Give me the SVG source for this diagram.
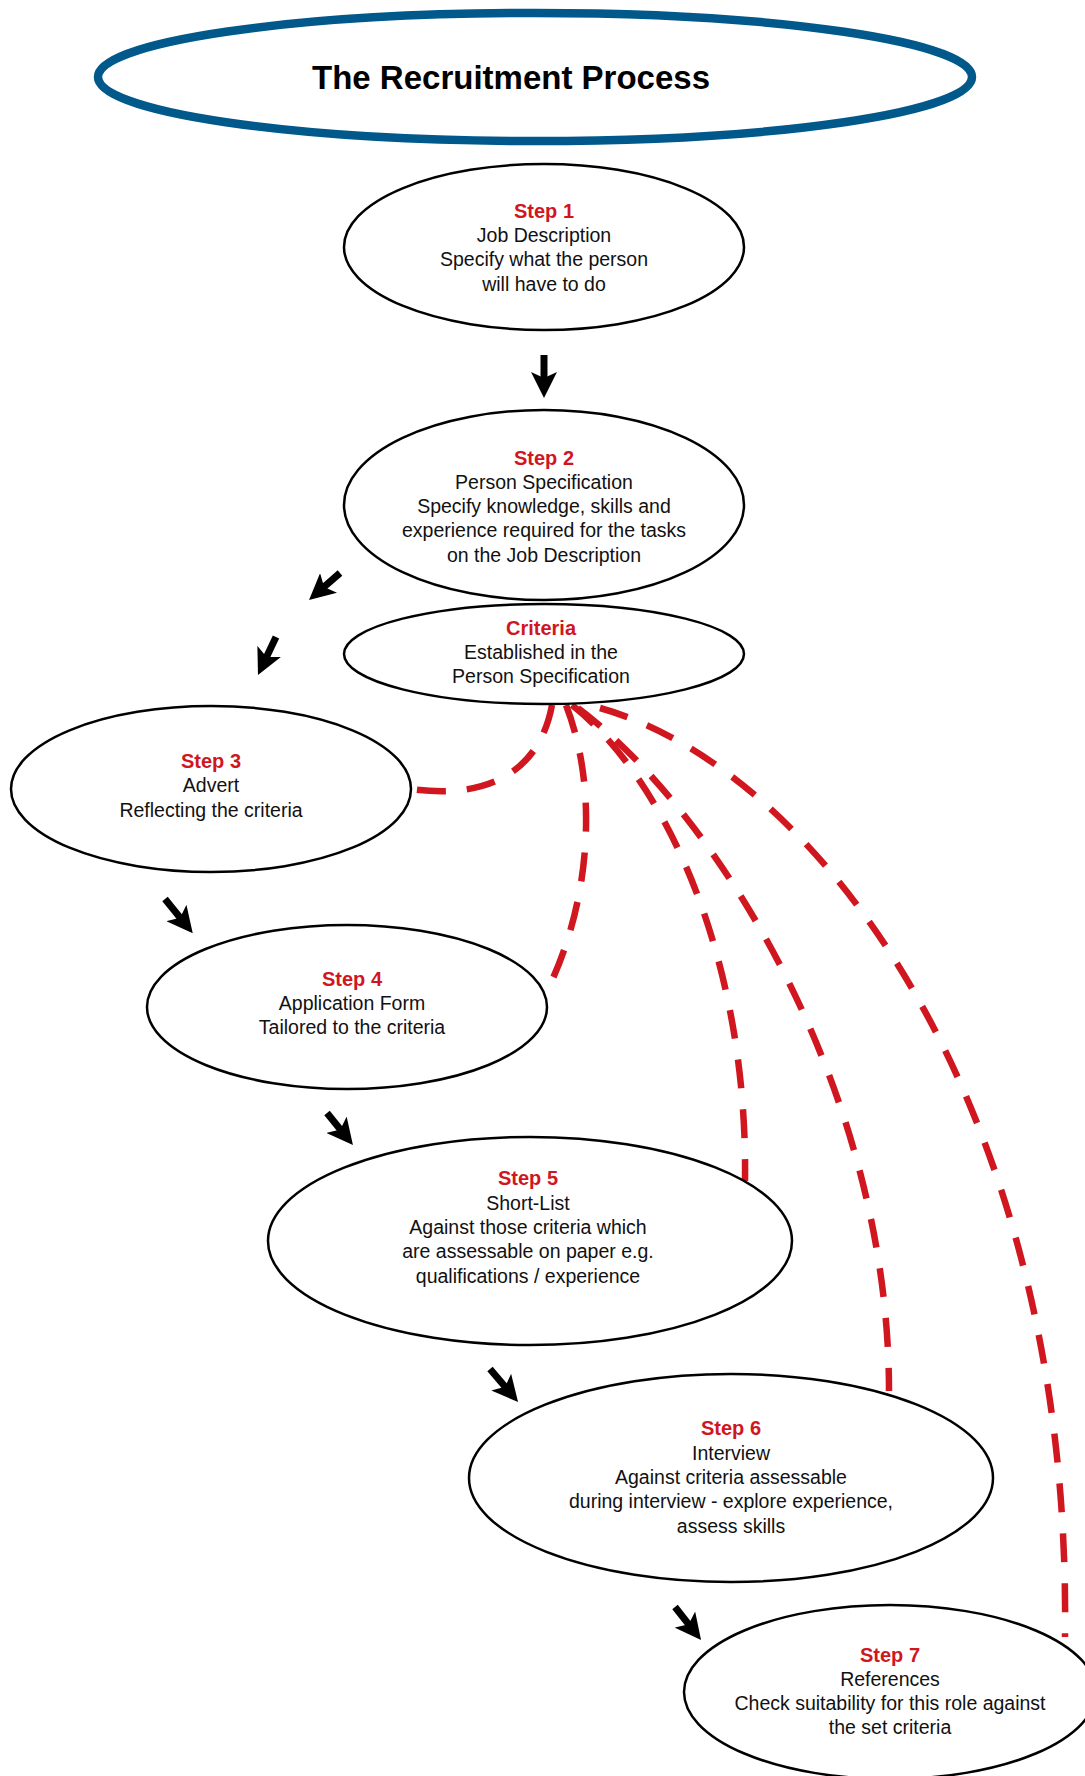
<svg xmlns="http://www.w3.org/2000/svg" width="1085" height="1776" viewBox="0 0 1085 1776">
<defs>
<style>
.node{fill:#fff;stroke:#000;stroke-width:2.5}
.title{fill:#fff;stroke:#00598a;stroke-width:8.5}
.tt{font-family:"Liberation Sans",Arial,sans-serif;font-weight:bold;font-size:33px;fill:#000;text-anchor:middle}
.st{font-family:"Liberation Sans",Arial,sans-serif;font-weight:bold;font-size:20px;fill:#d0161e;text-anchor:middle}
.bt{font-family:"Liberation Sans",Arial,sans-serif;font-size:19.5px;fill:#111;text-anchor:middle}
.dash{fill:none;stroke:#d0161e;stroke-width:6.5;stroke-dasharray:29 21}
.arr{stroke:#000;stroke-width:7;fill:none;marker-end:url(#ah)}
</style>
<marker id="ah" viewBox="0 0 26 26" refX="8" refY="13" markerWidth="26" markerHeight="26" markerUnits="userSpaceOnUse" orient="auto">
<path d="M0,0 L26,13 L0,26 L6,13 z" fill="#000"/>
</marker>
</defs>
<rect width="1085" height="1776" fill="#fff"/>

<g id="title">
<ellipse class="title" cx="535" cy="77" rx="437" ry="64"/>
<text class="tt" x="511" y="89">The Recruitment Process</text>
</g>

<g id="connectors">
<path class="dash" d="M552,705 C540,770 490,800 411,789"/>
<path class="dash" d="M566,705 C600,793 589,906 547,991"/>
<path class="dash" d="M572,705 C668,782 748,963 745,1181"/>
<path class="dash" d="M578,708 C714,810 889,1087 889,1391"/>
<path class="dash" d="M600,708 C820,770 1072,1110 1065,1637"/>
<line class="arr" x1="544" y1="355" x2="544" y2="380"/>
<line class="arr" x1="340" y1="573" x2="322.6" y2="588.2"/>
<line class="arr" x1="276" y1="637" x2="265.7" y2="658.7"/>
<line class="arr" x1="165" y1="899" x2="181.4" y2="919.2"/>
<line class="arr" x1="327" y1="1113" x2="341.6" y2="1131"/>
<line class="arr" x1="490" y1="1369" x2="506.4" y2="1388.3"/>
<line class="arr" x1="675" y1="1607" x2="689.9" y2="1625.9"/>
</g>

<g id="step1">
<ellipse class="node" cx="544" cy="247" rx="200" ry="83"/>
<text class="st" x="544" y="218">Step 1</text>
<text class="bt" x="544" y="242">Job Description</text>
<text class="bt" x="544" y="266">Specify what the person</text>
<text class="bt" x="544" y="291">will have to do</text>
</g>

<g id="step2">
<ellipse class="node" cx="544" cy="505" rx="200" ry="95"/>
<text class="st" x="544" y="465">Step 2</text>
<text class="bt" x="544" y="489">Person Specification</text>
<text class="bt" x="544" y="513">Specify knowledge, skills and</text>
<text class="bt" x="544" y="537">experience required for the tasks</text>
<text class="bt" x="544" y="562">on the Job Description</text>
</g>

<g id="criteria">
<ellipse class="node" cx="544" cy="654" rx="200" ry="50"/>
<text class="st" x="541" y="635">Criteria</text>
<text class="bt" x="541" y="659">Established in the</text>
<text class="bt" x="541" y="683">Person Specification</text>
</g>

<g id="step3">
<ellipse class="node" cx="211" cy="789" rx="200" ry="83"/>
<text class="st" x="211" y="768">Step 3</text>
<text class="bt" x="211" y="792">Advert</text>
<text class="bt" x="211" y="817">Reflecting the criteria</text>
</g>

<g id="step4">
<ellipse class="node" cx="347" cy="1007" rx="200" ry="82"/>
<text class="st" x="352" y="986">Step 4</text>
<text class="bt" x="352" y="1010">Application Form</text>
<text class="bt" x="352" y="1034">Tailored to the criteria</text>
</g>

<g id="step5">
<ellipse class="node" cx="530" cy="1241" rx="262" ry="104"/>
<text class="st" x="528" y="1185">Step 5</text>
<text class="bt" x="528" y="1210">Short-List</text>
<text class="bt" x="528" y="1234">Against those criteria which</text>
<text class="bt" x="528" y="1258">are assessable on paper e.g.</text>
<text class="bt" x="528" y="1283">qualifications / experience</text>
</g>

<g id="step6">
<ellipse class="node" cx="731" cy="1478" rx="262" ry="104"/>
<text class="st" x="731" y="1435">Step 6</text>
<text class="bt" x="731" y="1460">Interview</text>
<text class="bt" x="731" y="1484">Against criteria assessable</text>
<text class="bt" x="731" y="1508">during interview - explore experience,</text>
<text class="bt" x="731" y="1533">assess skills</text>
</g>

<g id="step7">
<ellipse class="node" cx="890" cy="1692" rx="206" ry="87"/>
<text class="st" x="890" y="1662">Step 7</text>
<text class="bt" x="890" y="1686">References</text>
<text class="bt" x="890" y="1710">Check suitability for this role against</text>
<text class="bt" x="890" y="1734">the set criteria</text>
</g>
</svg>
